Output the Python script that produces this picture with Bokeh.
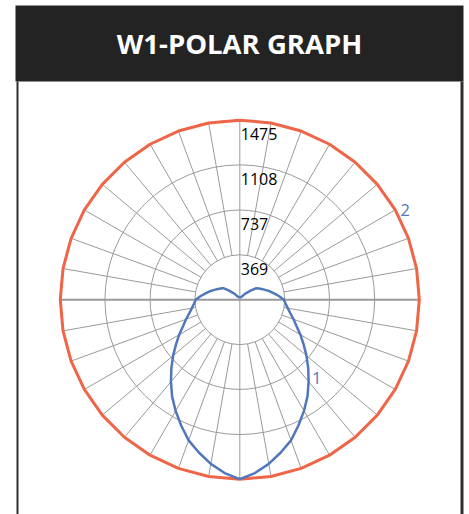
import numpy as np
from bokeh.plotting import figure
from bokeh.models import Range1d
from bokeh.core.properties import value
from bokeh.embed import file_html
from bokeh.resources import INLINE

# ---------------- data ----------------
title = "W1-POLAR GRAPH"
ring_values = [369, 737, 1108, 1475]
ring_labels = ["369", "737", "1108", "1475"]

# series 1 (blue), candela vs angle from nadir (deg), mirrored left/right
angles_1 = [0, 5, 10, 15, 20, 25, 30, 35, 40, 45, 50, 55, 60, 65, 70, 75, 80, 85, 90,
            95, 100, 105, 110, 115, 120, 125, 130, 135, 140, 145, 150, 155, 160, 165,
            170, 175, 180]
cd_1 = [1475, 1430, 1370, 1300, 1230, 1140, 1055, 970, 880, 795, 715, 640, 575, 515,
        470, 430, 400, 378, 362, 325, 290, 260, 230, 205, 185, 165, 120, 80, 55, 35,
        28, 25, 22, 20, 18, 17, 16]

# series 2 (red)
angles_2 = [0, 10, 20, 30, 40, 50, 60, 70, 80, 90, 100, 110, 120, 130, 140, 150, 160, 170, 180]
cd_2 = [1475, 1475, 1475, 1475, 1475, 1475, 1475, 1475, 1475, 1475, 1475, 1475, 1475,
        1475, 1475, 1475, 1475, 1475, 1475]

series_names = ["1", "2"]
label_angle_1 = 45
label_angle_2 = 120

# ---------------- styling / layout ----------------
W, H = 465, 514
S = 179.5 / 1475.0          # px per candela
CX, CY = 239.3, 299.2       # canvas pixel of the pole
BLUE = "#5077BA"
RED = "#EF6548"
GRID = "#9a9a9a"


def dx(px):
    return (px - CX) / S


def dy(py):
    return (CY - py) / S


p = figure(width=W, height=H, x_range=Range1d(dx(0), dx(W)), y_range=Range1d(dy(H), dy(0)),
           output_backend="svg", toolbar_location=None, min_border=0)
p.axis.visible = False
p.grid.visible = False
p.outline_line_color = None
p.background_fill_color = "white"
p.border_fill_color = "white"

# header + panel border
p.quad(left=[dx(15)], right=[dx(463)], top=[dy(5)], bottom=[dy(81)],
       fill_color="#222322", line_color=None)
p.text(x=[dx(239)], y=[dy(43)], text=[title], text_color="white",
       text_font=value("Open Sans"), text_font_style="bold", text_font_size="27.5px",
       text_align="center", text_baseline="middle")
p.segment(x0=[dx(17)], y0=[dy(81)], x1=[dx(17)], y1=[dy(H + 10)],
          line_color="#2e2e2e", line_width=2)
p.segment(x0=[dx(461.5)], y0=[dy(81)], x1=[dx(461.5)], y1=[dy(H + 10)],
          line_color="#2e2e2e", line_width=3)

# polar grid
rmin, rmax = ring_values[0], ring_values[-1]
p.circle(x=[0] * len(ring_values), y=[0] * len(ring_values), radius=ring_values,
         fill_color=None, line_color=GRID, line_width=1)
sp = np.radians([a for a in range(0, 360, 10) if a % 90 != 0])
p.segment(x0=rmin * np.sin(sp), y0=-rmin * np.cos(sp), x1=rmax * np.sin(sp), y1=-rmax * np.cos(sp),
          line_color=GRID, line_width=1)
p.segment(x0=[-rmax], y0=[0], x1=[rmax], y1=[0], line_color=GRID, line_width=2)
p.segment(x0=[0], y0=[-rmax], x1=[0], y1=[rmax], line_color=GRID, line_width=1)

# ring labels
p.text(x=[0] * len(ring_values), y=ring_values, text=ring_labels, text_color="black",
       text_font=value("Open Sans"), text_font_size="16px",
       text_align="left", text_baseline="alphabetic", x_offset=1, y_offset=14)


def curve(angles, vals):
    a = np.radians(np.array(angles, dtype=float))
    r = np.array(vals, dtype=float)
    xr, yr = r * np.sin(a), -r * np.cos(a)
    x = np.concatenate([-xr[::-1], xr[1:]])
    y = np.concatenate([yr[::-1], yr[1:]])
    return x, y


x2, y2 = curve(angles_2, cd_2)
p.line(x2, y2, line_color=RED, line_width=3)
x1, y1 = curve(angles_1, cd_1)
p.line(x1, y1, line_color=BLUE, line_width=2.5)

# series labels
i1 = angles_1.index(label_angle_1)
i2 = angles_2.index(label_angle_2)
a1, a2 = np.radians(label_angle_1), np.radians(label_angle_2)
p.text(x=[cd_1[i1] * np.sin(a1)], y=[-cd_1[i1] * np.cos(a1)], text=[series_names[0]],
       text_color=BLUE, text_font=value("Open Sans"), text_font_size="16.5px",
       text_align="center", text_baseline="middle", x_offset=8.5, y_offset=9.5)
p.text(x=[cd_2[i2] * np.sin(a2)], y=[-cd_2[i2] * np.cos(a2)], text=[series_names[1]],
       text_color=BLUE, text_font=value("Open Sans"), text_font_size="16.5px",
       text_align="center", text_baseline="middle", x_offset=10, y_offset=0)

open("out.html", "w").write(file_html(p, INLINE))
